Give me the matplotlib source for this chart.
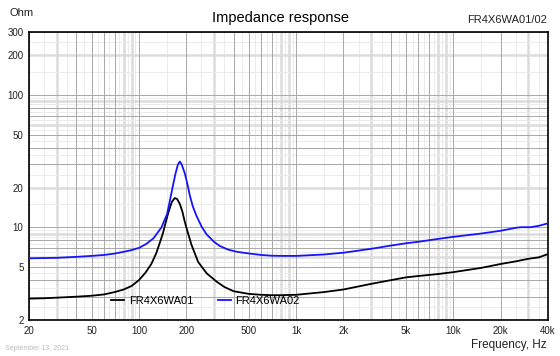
import numpy as np
import matplotlib
matplotlib.use("Agg")
import matplotlib.pyplot as plt

plt.rcParams['font.family'] = ['Liberation Sans', 'DejaVu Sans']

# impedance curves
freq_01 = [20, 25, 30, 40, 50, 60, 70, 80, 90, 100, 110, 120, 129, 136, 142, 148,
           154, 162, 169, 175, 182, 189, 196, 205, 216, 238, 270, 312, 350,
           400, 500, 600, 700, 800, 1000, 1500, 2000, 3000, 4000, 5000, 6000,
           8000, 10000, 15000, 20000, 25000, 30000, 35000, 40000]
imp_01 = [2.90, 2.92, 2.95, 3.00, 3.05, 3.12, 3.25, 3.40, 3.62, 4.0, 4.55, 5.3,
          6.4, 7.7, 9.0, 10.9, 13.0, 15.6, 16.7, 16.4, 15.1, 13.2, 11.0, 9.1,
          7.4, 5.5, 4.5, 3.9, 3.55, 3.3, 3.15, 3.1, 3.08, 3.08, 3.1, 3.25,
          3.4, 3.75, 4.0, 4.2, 4.3, 4.45, 4.6, 4.95, 5.3, 5.55, 5.8, 5.95, 6.3]

freq_02 = [20, 30, 40, 50, 60, 70, 80, 90, 101, 112, 124, 139, 151, 159, 165,
           171, 177, 182, 187, 196, 204, 211, 220, 232, 250, 269, 300, 327, 370,
           420, 508, 600, 700, 800, 1000, 1500, 2000, 3000, 4000, 5000, 6000,
           8000, 10000, 15000, 20000, 25000, 27000, 31000, 35000, 40000]
imp_02 = [5.85, 5.9, 6.0, 6.1, 6.2, 6.35, 6.55, 6.75, 7.04, 7.55, 8.3, 10.0,
          12.6, 16.9, 21.0, 25.6, 29.8, 31.5, 30.0, 25.6, 21.0, 17.4, 14.5, 12.3,
          10.2, 8.9, 7.8, 7.25, 6.8, 6.55, 6.35, 6.2, 6.12, 6.1, 6.1, 6.25, 6.45,
          6.9, 7.3, 7.6, 7.8, 8.2, 8.5, 9.0, 9.45, 9.95, 10.05, 10.05, 10.3, 10.75]

series_names = ['FR4X6WA01', 'FR4X6WA02']
series_colors = ['#000000', '#1414ff']

x_ticks = [20, 50, 100, 200, 500, 1000, 2000, 5000, 10000, 20000, 40000]
x_labels = ['20', '50', '100', '200', '500', '1k', '2k', '5k', '10k', '20k', '40k']
y_ticks = [2, 5, 10, 20, 50, 100, 200, 300]
y_labels = ['2', '5', '10', '20', '50', '100', '200', '300']

fig = plt.figure(figsize=(5.6, 3.56), dpi=100)
ax = fig.add_axes([29 / 560, 36 / 356, 519 / 560, 288 / 356])
ax.set_xscale('log')
ax.set_yscale('log')
ax.set_xlim(20, 40000)
ax.set_ylim(2, 300)

# grid: dark / thick light / thin light lines per decade
dark_c, band_c, thin_c = '#a8a8a8', '#dcdcdc', '#ebebeb'
x_dark, x_band = [1, 2, 4, 5, 6, 7], [3, 8, 9]
y_dark, y_band = [1, 3, 4, 5, 7, 8], [2, 6, 9]
for dec in [10, 100, 1000, 10000]:
    for m in np.arange(1.5, 10, 1.0):
        ax.axvline(m * dec, color=thin_c, lw=0.7, zorder=0)
    for m in x_band:
        ax.axvline(m * dec, color=band_c, lw=1.8, zorder=0)
    for m in x_dark:
        ax.axvline(m * dec, color=dark_c, lw=0.7, zorder=1)
for dec in [1, 10, 100]:
    for m in np.arange(1.5, 10, 1.0):
        ax.axhline(m * dec, color=thin_c, lw=0.7, zorder=0)
    for m in y_band:
        ax.axhline(m * dec, color=band_c, lw=1.8, zorder=0)
    for m in y_dark:
        ax.axhline(m * dec, color=dark_c, lw=0.7, zorder=1)

ax.plot(freq_01, imp_01, color=series_colors[0], lw=1.3, label=series_names[0], zorder=3)
ax.plot(freq_02, imp_02, color=series_colors[1], lw=1.3, label=series_names[1], zorder=3)

ax.set_xticks(x_ticks)
ax.set_xticklabels(x_labels)
ax.set_yticks(y_ticks)
ax.set_yticklabels(y_labels)
ax.minorticks_off()
ax.tick_params(length=0, labelsize=7, colors='#222222', pad=4)
for s in ax.spines.values():
    s.set_linewidth(1.2)
    s.set_color('black')

leg = ax.legend(loc='center', bbox_to_anchor=(0.34, 0.065), ncol=2, frameon=False,
                fontsize=8, handlelength=1.2, handletextpad=0.4, columnspacing=2.2)

fig.text(9 / 560, 1 - 13 / 356, 'Ohm', fontsize=8, va='center', ha='left', color='#222222')
fig.text(280 / 560, 1 - 18 / 356, 'Impedance response', fontsize=10.5, va='center', ha='center')
fig.text(547 / 560, 1 - 20 / 356, 'FR4X6WA01/02', fontsize=8, va='center', ha='right', color='#222222')
fig.text(547 / 560, 1 - 345 / 356, 'Frequency, Hz', fontsize=8.5, va='center', ha='right', color='#222222')
fig.text(5 / 560, 1 - 348 / 356, 'September 13, 2021', fontsize=5, va='center', ha='left', color='#bbbbbb')

fig.savefig('out.png', dpi=100)
